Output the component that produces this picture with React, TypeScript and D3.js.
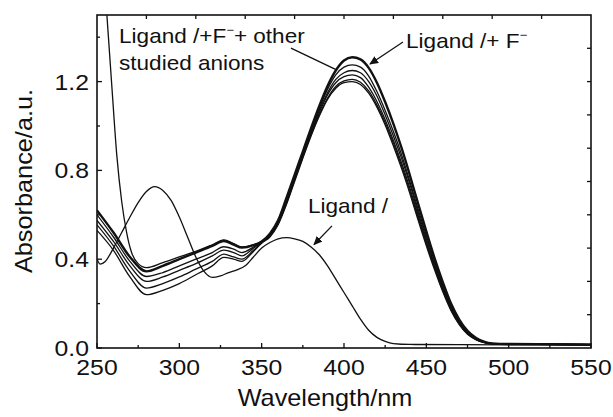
import React from 'react';
import * as d3 from 'd3';

// ---------- data ----------
const xTicksMajor = [250, 300, 350, 400, 450, 500, 550];
const xTicksMinor = [275, 325, 375, 425, 475, 525];
const yTicksMajor = [0.0, 0.4, 0.8, 1.2];
const yTicksMinor = [0.2, 0.6, 1.0, 1.4];
const topTicks = [280, 310, 340, 370, 400, 430, 460, 490, 520];
const rightTicks = [0.15, 0.3, 0.45, 0.6, 0.75, 0.9, 1.05, 1.2, 1.35];

const ligandNm = [250, 252, 255, 260, 265, 270, 275, 280, 285, 290, 295, 300, 305, 310, 315, 320, 325, 330, 335, 340, 345, 350, 355, 360, 365, 370, 375, 380, 385, 390, 395, 400, 405, 410, 415, 420, 425, 430, 440, 470, 550];
const ligandAbs = [0.40, 0.378, 0.39, 0.45, 0.52, 0.59, 0.655, 0.705, 0.727, 0.71, 0.665, 0.59, 0.50, 0.41, 0.345, 0.318, 0.325, 0.34, 0.352, 0.37, 0.41, 0.45, 0.475, 0.492, 0.497, 0.492, 0.48, 0.455, 0.42, 0.37, 0.31, 0.25, 0.19, 0.13, 0.08, 0.048, 0.03, 0.02, 0.016, 0.015, 0.013];

const bundleNm = [250, 260, 270, 280, 290, 300, 310, 320, 327, 333, 338, 345, 350, 355, 360, 365, 370, 375, 380, 385, 390, 395, 400, 405, 410, 415, 420, 425, 430, 435, 440, 445, 450, 455, 460, 465, 470, 475, 480, 485, 490, 500, 525, 550];

// Ligand + F- (thick, highest band)
const fluorideAbs = [0.62, 0.52, 0.41, 0.345, 0.37, 0.40, 0.43, 0.46, 0.482, 0.466, 0.452, 0.463, 0.48, 0.515, 0.575, 0.675, 0.78, 0.885, 0.99, 1.09, 1.18, 1.25, 1.295, 1.31, 1.3, 1.262, 1.195, 1.108, 1.01, 0.9, 0.778, 0.65, 0.525, 0.405, 0.297, 0.2, 0.128, 0.077, 0.046, 0.029, 0.021, 0.018, 0.017, 0.016];

// anion with strong short-wavelength absorption
const steepNm = [250, 253, 256, 259, 262, 265, 268, 271, 275, 280, 290, 300, 310, 320, 327, 333, 338, 345, 350, 355, 360, 365, 370, 375, 380, 385, 390, 395, 400, 405, 410, 415, 420, 425, 430, 435, 440, 445, 450, 455, 460, 465, 470, 475, 480, 485, 490, 500, 525, 550];
const steepAbs = [2.1, 1.8, 1.5, 1.18, 0.87, 0.66, 0.52, 0.43, 0.38, 0.362, 0.385, 0.41, 0.435, 0.465, 0.487, 0.47, 0.455, 0.465, 0.48, 0.51, 0.565, 0.665, 0.77, 0.875, 0.98, 1.08, 1.165, 1.23, 1.265, 1.275, 1.265, 1.225, 1.155, 1.07, 0.975, 0.87, 0.75, 0.625, 0.505, 0.39, 0.283, 0.19, 0.12, 0.072, 0.043, 0.027, 0.02, 0.017, 0.016, 0.015];

const anionB = [0.60, 0.50, 0.39, 0.322, 0.34, 0.37, 0.40, 0.43, 0.456, 0.445, 0.43, 0.455, 0.478, 0.51, 0.565, 0.66, 0.765, 0.87, 0.97, 1.07, 1.15, 1.21, 1.24, 1.25, 1.24, 1.2, 1.135, 1.05, 0.955, 0.853, 0.738, 0.612, 0.492, 0.378, 0.274, 0.183, 0.115, 0.068, 0.041, 0.026, 0.02, 0.017, 0.016, 0.015];
const anionC = [0.575, 0.48, 0.37, 0.30, 0.32, 0.35, 0.38, 0.415, 0.441, 0.43, 0.415, 0.45, 0.476, 0.505, 0.56, 0.655, 0.76, 0.865, 0.965, 1.06, 1.14, 1.195, 1.222, 1.23, 1.218, 1.175, 1.11, 1.028, 0.935, 0.833, 0.72, 0.598, 0.48, 0.368, 0.266, 0.178, 0.111, 0.066, 0.04, 0.025, 0.019, 0.017, 0.016, 0.015];
const anionD = [0.555, 0.46, 0.345, 0.27, 0.29, 0.32, 0.355, 0.39, 0.423, 0.41, 0.40, 0.44, 0.474, 0.505, 0.56, 0.65, 0.755, 0.86, 0.96, 1.05, 1.125, 1.178, 1.203, 1.21, 1.197, 1.158, 1.095, 1.016, 0.922, 0.82, 0.708, 0.587, 0.47, 0.36, 0.26, 0.173, 0.108, 0.064, 0.039, 0.025, 0.019, 0.017, 0.016, 0.015];
const anionE = [0.53, 0.44, 0.32, 0.24, 0.26, 0.29, 0.33, 0.37, 0.408, 0.40, 0.39, 0.435, 0.472, 0.50, 0.555, 0.645, 0.75, 0.855, 0.955, 1.045, 1.12, 1.17, 1.195, 1.20, 1.187, 1.148, 1.085, 1.005, 0.91, 0.808, 0.696, 0.576, 0.46, 0.352, 0.253, 0.168, 0.105, 0.062, 0.038, 0.024, 0.019, 0.017, 0.016, 0.015];

// annotation anchors in data units [nm, absorbance]
const noteOtherLine = [[367.8, 1.351], [395.8, 1.252]];
const noteFluorideArrow = [[435.8, 1.378], [415.8, 1.279]];
const noteLigandArrow = [[392.7, 0.55], [381.8, 0.466]];

const W = 613, H = 417;
const plot = { left: 97, right: 591, top: 15, bottom: 348 };
const FONT = '"Liberation Sans", Arial, Helvetica, sans-serif';
const SX = 1.1;

export default function App() {
  const x = d3.scaleLinear().domain([250, 550]).range([plot.left, plot.right]);
  const y = d3.scaleLinear().domain([0, 1.5]).range([plot.bottom, plot.top]);
  const line = d3.line<[number, number]>().x(d => x(d[0])).y(d => y(d[1])).curve(d3.curveMonotoneX);
  const zip = (a: number[], b: number[]) => a.map((v, i) => [v, b[i]] as [number, number]);

  const thin = [
    zip(ligandNm, ligandAbs),
    zip(steepNm, steepAbs),
    zip(bundleNm, anionB),
    zip(bundleNm, anionC),
    zip(bundleNm, anionD),
    zip(bundleNm, anionE),
  ];
  const thick = zip(bundleNm, fluorideAbs);

  const T = (px: number, py: number, anchor: string, size: number, content: React.ReactNode, baseline?: string, key?: string) => (
    <g key={key} transform={`translate(${px},${py}) scale(${SX},1)`}>
      <text x={0} y={0} textAnchor={anchor as any} fontSize={size} fontFamily={FONT} fill="#111" dominantBaseline={baseline as any}>{content}</text>
    </g>
  );

  const seg = (p: number[][]) => ({ x1: x(p[0][0]), y1: y(p[0][1]), x2: x(p[1][0]), y2: y(p[1][1]) });

  return (
    <>
      <style>{`body{margin:0;background:#fff}`}</style>
      <svg width={W} height={H} viewBox={`0 0 ${W} ${H}`} style={{ display: 'block', background: '#fff' }}>
        <defs>
          <clipPath id="plotclip">
            <rect x={plot.left} y={plot.top} width={plot.right - plot.left} height={plot.bottom - plot.top} />
          </clipPath>
          <marker id="arrow" markerUnits="userSpaceOnUse" markerWidth={9} markerHeight={8} refX={8} refY={4} orient="auto">
            <path d="M0,0 L9,4 L0,8 Z" fill="#111" />
          </marker>
        </defs>

        <g clipPath="url(#plotclip)" fill="none" stroke="#111" strokeLinejoin="round">
          {thin.map((d, i) => <path key={i} d={line(d) || ''} strokeWidth={1.3} />)}
          <path d={line(thick) || ''} strokeWidth={2.4} />
        </g>

        {/* frame */}
        <rect x={plot.left} y={plot.top} width={plot.right - plot.left} height={plot.bottom - plot.top} fill="none" stroke="#111" strokeWidth={1.6} />

        {/* ticks */}
        <g stroke="#111" strokeWidth={1.3}>
          {xTicksMajor.map(t => <line key={'xM' + t} x1={x(t)} x2={x(t)} y1={plot.bottom} y2={plot.bottom - 5} />)}
          {xTicksMinor.map(t => <line key={'xm' + t} x1={x(t)} x2={x(t)} y1={plot.bottom} y2={plot.bottom - 3} />)}
          {yTicksMajor.map(t => <line key={'yM' + t} x1={plot.left} x2={plot.left + 5} y1={y(t)} y2={y(t)} />)}
          {yTicksMinor.map(t => <line key={'ym' + t} x1={plot.left} x2={plot.left + 3} y1={y(t)} y2={y(t)} />)}
          {topTicks.map(t => <line key={'t' + t} x1={x(t)} x2={x(t)} y1={plot.top} y2={plot.top + 4} />)}
          {rightTicks.map(t => <line key={'r' + t} x1={plot.right} x2={plot.right - 4} y1={y(t)} y2={y(t)} />)}
        </g>

        {/* tick labels */}
        {xTicksMajor.map(t => T(x(t), 375, 'middle', 22.5, String(t), undefined, 'xl' + t))}
        {yTicksMajor.map(t => T(plot.left - 8, y(t) + 8, 'end', 22.5, t.toFixed(1), undefined, 'yl' + t))}

        {/* axis titles */}
        {T(325, 406, 'middle', 23, 'Wavelength/nm')}
        <g transform={`translate(32,181) rotate(-90) scale(${SX},1)`}>
          <text x={0} y={0} textAnchor="middle" fontSize={23} fontFamily={FONT} fill="#111">Absorbance/a.u.</text>
        </g>

        {/* annotations */}
        <g stroke="#111" strokeWidth={1.3}>
          <line {...seg(noteOtherLine)} />
          <line {...seg(noteFluorideArrow)} markerEnd="url(#arrow)" />
          <line {...seg(noteLigandArrow)} markerEnd="url(#arrow)" />
        </g>
        {T(x(263.4), y(1.374), 'start', 20.5, <>Ligand /+F<tspan dy={-9} fontSize={12}>−</tspan><tspan dy={9}>+ other</tspan></>)}
        {T(x(263.4), y(1.252), 'start', 20.5, 'studied anions')}
        {T(x(437.7), y(1.351), 'start', 20.5, <>Ligand /+ F<tspan dy={-9} fontSize={12}>−</tspan></>)}
        {T(x(378.1), y(0.608), 'start', 20.5, 'Ligand /')}
      </svg>
    </>
  );
}
